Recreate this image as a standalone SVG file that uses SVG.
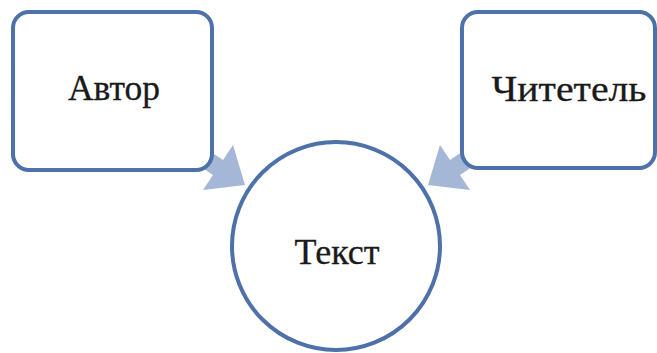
<svg xmlns="http://www.w3.org/2000/svg" width="657" height="353" viewBox="0 0 657 353">
<style>
.box{fill:#fff;stroke:#4d71a8;stroke-width:4}
.arrow{fill:#a5b7d6}
.lbl{font-family:"Liberation Serif","Times New Roman",serif;font-size:35px;fill:#1a1a1a;stroke:#1a1a1a;stroke-width:0.3;text-anchor:middle}
</style>
<rect width="657" height="353" fill="#fff"/>
<g id="connectors">
<polygon class="arrow" points="190,138 223,160 233,145 245,185 203,190 213,175 180,153"/>
<polygon class="arrow" points="483,138 450,160 440,145 428,185 470,190 460,175 493,153"/>
</g>
<g id="author">
<rect class="box" x="13" y="12" width="199" height="158" rx="16"/>
<text class="lbl" x="114" y="100" textLength="92" lengthAdjust="spacingAndGlyphs">Автор</text>
</g>
<g id="reader">
<rect class="box" x="462" y="12" width="193" height="156" rx="16"/>
<text class="lbl" x="569" y="101" textLength="155" lengthAdjust="spacingAndGlyphs">Читетель</text>
</g>
<g id="text">
<circle class="box" cx="336" cy="246" r="104"/>
<text class="lbl" x="337" y="264" textLength="85" lengthAdjust="spacingAndGlyphs">Текст</text>
</g>
</svg>
